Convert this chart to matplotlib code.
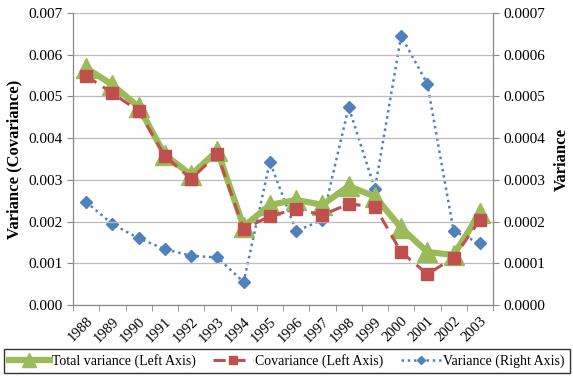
import matplotlib
matplotlib.use("Agg")
import matplotlib.pyplot as plt
import numpy as np

plt.rcParams['font.family'] = ['Liberation Serif', 'DejaVu Serif']

years = [str(y) for y in range(1988, 2004)]
total_var = [0.00568, 0.00528, 0.00475, 0.00360, 0.00312, 0.00370, 0.00188, 0.00240,
             0.00252, 0.00240, 0.00285, 0.00260, 0.00185, 0.00127, 0.00120, 0.00220]
covariance = [0.00549, 0.00508, 0.00465, 0.00357, 0.00302, 0.00362, 0.00182, 0.00213,
              0.00230, 0.00216, 0.00242, 0.00236, 0.00127, 0.00074, 0.00113, 0.00204]
variance = [0.000247, 0.000194, 0.000160, 0.000134, 0.000118, 0.000114, 0.000055, 0.000343,
            0.000177, 0.000204, 0.000475, 0.000278, 0.000645, 0.000530, 0.000177, 0.000148]

green = '#9BBB59'
red = '#C0504D'
blue = '#4F81BD'

fig = plt.figure(figsize=(5.73, 3.80), dpi=100)
ax = fig.add_axes([73/573, 1-305/380, (493-73)/573, (305-13)/380])
ax2 = ax.twinx()

x = np.arange(len(years))
l1, = ax.plot(x, total_var, color=green, lw=4.5, marker='^', ms=14, mfc=green, mec=green,
              label='Total variance (Left Axis)', zorder=3)
l2, = ax.plot(x, covariance, color=red, lw=2.2, ls=(0, (4, 2.5)), marker='s', ms=8.5,
              mfc=red, mec=red, label='Covariance (Left Axis)', zorder=4)
l3, = ax2.plot(x, variance, color=blue, lw=1.8, ls=(0, (1, 1.5)), marker='D', ms=6,
               mfc=blue, mec=blue, label='Variance (Right Axis)', zorder=5)

ax.set_zorder(ax2.get_zorder() + 1)
ax.patch.set_visible(False)
ax.set_xlim(-0.5, len(years) - 0.5)
ax.set_ylim(0, 0.007)
ax2.set_ylim(0, 0.0007)
ax.set_yticks(np.arange(0, 0.0071, 0.001))
ax2.set_yticks(np.arange(0, 0.00071, 0.0001))
ax.set_yticklabels([f"{v:.3f}" for v in np.arange(0, 0.0071, 0.001)], fontsize=11)
ax2.set_yticklabels([f"{v:.4f}" for v in np.arange(0, 0.00071, 0.0001)], fontsize=11)

ax.set_xticks(x)
ax.set_xticklabels(years, rotation=45, fontsize=10.5, ha='right', rotation_mode='anchor')
ax.set_xticks(np.arange(-0.5, len(years), 1), minor=True)
ax.tick_params(axis='x', which='major', length=0, pad=7)
ax.tick_params(axis='x', which='minor', length=4, color='#888888')
ax.tick_params(axis='y', length=4, color='#888888')
ax2.tick_params(axis='y', length=4, color='#888888')

ax.grid(axis='y', color='#BBBBBB', lw=0.9)
ax.set_axisbelow(True)
for a in (ax, ax2):
    a.spines['top'].set_visible(False)
    for s in ('left', 'right', 'bottom'):
        a.spines[s].set_color('#888888')

ax.set_ylabel('Variance (Covariance)', fontsize=12, fontweight='bold', labelpad=4)
ax2.set_ylabel('Variance', fontsize=12, fontweight='bold', labelpad=6)

leg = fig.legend(handles=[l1, l2, l3], loc='center', bbox_to_anchor=(287/573, 1-361/380),
                 ncol=3, fontsize=10, frameon=True, fancybox=False, edgecolor='black',
                 handlelength=2.9, columnspacing=1.25, handletextpad=0.15, borderpad=0.35,
                 borderaxespad=0, markerscale=0.75)
leg.get_frame().set_linewidth(1.0)

fig.savefig('out.png', dpi=100)
